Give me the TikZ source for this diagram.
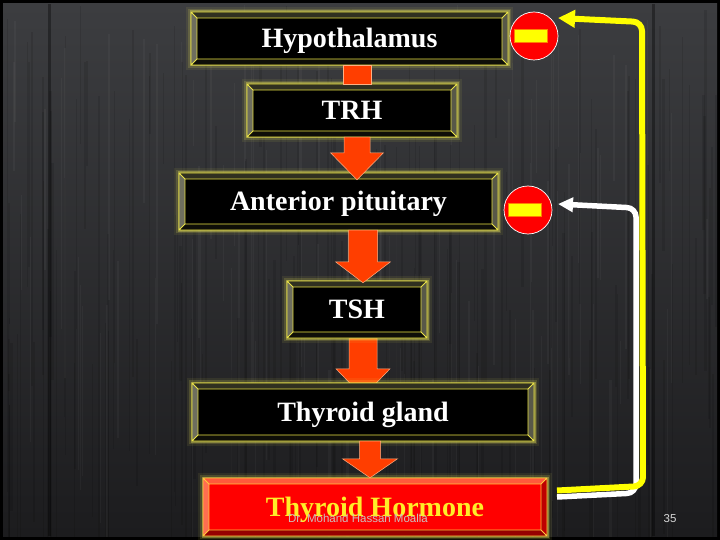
\documentclass[tikz,border=0pt]{standalone}
\usepackage{fontspec}
\setmainfont{Liberation Serif}
\newfontfamily\wmfont{Liberation Sans}
\usetikzlibrary{arrows.meta,calc}
\pgfdeclarelayer{bglayer}
\pgfdeclarelayer{arrlayer}
\pgfsetlayers{bglayer,arrlayer,main}
\definecolor{bgtop}{RGB}{60,61,64}
\definecolor{bgbot}{RGB}{28,28,30}
\definecolor{bkIn}{RGB}{0,0,0}
\definecolor{bkTop}{RGB}{48,48,32}
\definecolor{bkLeft}{RGB}{110,110,94}
\definecolor{bkBot}{RGB}{14,14,8}
\definecolor{bkRight}{RGB}{88,88,72}
\definecolor{bkLine}{RGB}{235,228,70}
\definecolor{rdIn}{RGB}{255,0,0}
\definecolor{rdTop}{RGB}{255,90,60}
\definecolor{rdLeft}{RGB}{255,110,80}
\definecolor{rdBot}{RGB}{150,0,0}
\definecolor{rdRight}{RGB}{190,0,0}
\definecolor{rdLine}{RGB}{255,200,60}
\definecolor{glowc}{RGB}{240,235,90}
\definecolor{arrred}{RGB}{255,62,0}
\definecolor{arredge}{RGB}{255,175,130}
\definecolor{fbyel}{RGB}{255,255,0}
\definecolor{hormtext}{RGB}{255,238,40}
\definecolor{wmgray}{RGB}{205,190,190}
\definecolor{pggray}{RGB}{215,215,215}
\tikzset{
  boxtext/.style={inner sep=0pt, text height=18.5pt, text depth=0pt,
    font=\fontsize{28}{32}\selectfont\bfseries},
  arrowsty/.style={fill=arrred, draw=arredge, line width=0.5pt},
  minuscirc/.style={circle, fill=red, draw=white, line width=0.7pt,
    minimum size=48pt, inner sep=0pt},
  minusbar/.style={fill=fbyel, draw=orange, line width=0.5pt},
  yelline/.style={draw=fbyel, line width=6pt, rounded corners=9pt,
    -{Triangle[length=17pt,width=17pt]}},
  whiline/.style={draw=white, line width=5.5pt, rounded corners=9pt,
    -{Triangle[length=15pt,width=14pt]}},
  wm/.style={font=\wmfont\fontsize{11.5}{13}\selectfont, text=wmgray, inner sep=0pt},
  pgno/.style={font=\wmfont\fontsize{11.5}{13}\selectfont, text=pggray, inner sep=0pt}
}
% #1 name, #2 x1, #3 y1, #4 x2, #5 y2, #6 scheme, #7 text colour, #8 text
\newcommand\bevbox[8]{%
  \draw[glowc, line width=10pt, opacity=0.08] (#2,#3) rectangle (#4,#5);
  \draw[glowc, line width=6pt, opacity=0.16] (#2,#3) rectangle (#4,#5);
  \draw[glowc, line width=3pt, opacity=0.35] (#2,#3) rectangle (#4,#5);
  \fill[#6Top] (#2,#3) -- (#4,#3) -- (#4-6,#3+6) -- (#2+6,#3+6) -- cycle;
  \fill[#6Bot] (#2,#5) -- (#4,#5) -- (#4-6,#5-6) -- (#2+6,#5-6) -- cycle;
  \fill[#6Left] (#2,#3) -- (#2+6,#3+6) -- (#2+6,#5-6) -- (#2,#5) -- cycle;
  \fill[#6Right] (#4,#3) -- (#4-6,#3+6) -- (#4-6,#5-6) -- (#4,#5) -- cycle;
  \fill[#6In] (#2+6,#3+6) rectangle (#4-6,#5-6);
  \draw[#6Line, line width=0.8pt] (#2,#3) rectangle (#4,#5)
    (#2+6,#3+6) rectangle (#4-6,#5-6)
    (#2,#3) -- (#2+6,#3+6) (#4,#3) -- (#4-6,#3+6)
    (#2,#5) -- (#2+6,#5-6) (#4,#5) -- (#4-6,#5-6);
  \node[boxtext, text=#7, minimum width={#4-#2}, minimum height={#5-#3}]
    (#1) at ({(#2+#4)/2},{(#3+#5)/2}) {#8};
}
% #1 from, #2 to, #3 x, #4 shaft half, #5 head half, #6 head length, #7 tip offset
\newcommand\redarrow[7]{%
  \filldraw[arrowsty] let \p1=(#1.south), \p2=(#2.north) in
    (#3-#4,\y1) -- (#3+#4,\y1) -- (#3+#4,\y2-#7pt+#6pt) -- (#3+#5,\y2-#7pt+#6pt)
    -- (#3,\y2-#7pt) -- (#3-#5,\y2-#7pt+#6pt) -- (#3-#4,\y2-#7pt+#6pt) -- cycle;
}
\begin{document}
\begin{tikzpicture}[x=1pt,y=-1pt]
\useasboundingbox (0,0) rectangle (720,540);
\begin{pgfonlayer}{bglayer}
  \fill[black] (0,0) rectangle (720,540);
  \shade[top color=bgtop, bottom color=bgbot] (3,4) rectangle (717,536);
  \begin{scope}
    \clip (3,4) rectangle (717,536);
    \pgfmathsetseed{42}
    \foreach \i in {1,...,160}{
      \pgfmathsetmacro\xa{3+rnd*712}
      \pgfmathsetmacro\wa{0.4+rnd*2.5}
      \pgfmathsetmacro\ya{rnd*380}
      \pgfmathsetmacro\hb{80+rnd*400}
      \fill[black, opacity=0.10] (\xa,\ya) rectangle ++(\wa,\hb);
    }
    \foreach \i in {1,...,90}{
      \pgfmathsetmacro\xa{3+rnd*712}
      \pgfmathsetmacro\wa{0.4+rnd*2}
      \pgfmathsetmacro\ya{rnd*380}
      \pgfmathsetmacro\hb{60+rnd*300}
      \fill[white, opacity=0.035] (\xa,\ya) rectangle ++(\wa,\hb);
    }
    \fill[black, opacity=0.35] (48,4) rectangle (51,536);
    \fill[black, opacity=0.35] (652,4) rectangle (655,536);
  \end{scope}
\end{pgfonlayer}

\bevbox{hypo}{191}{12}{508}{65}{bk}{white}{Hypothalamus}
\bevbox{trh}{247}{84}{457}{137}{bk}{white}{TRH}
\bevbox{ap}{179}{173}{498}{230}{bk}{white}{Anterior pituitary}
\bevbox{tsh}{287}{281}{427}{338}{bk}{white}{TSH}
\bevbox{tg}{192}{383}{534}{441}{bk}{white}{Thyroid gland}
\bevbox{th}{203}{478}{547}{536}{rd}{hormtext}{Thyroid Hormone}

% block arrows
\fill[arrowsty] let \p1=(hypo.south), \p2=(trh.north) in (343,\y1) rectangle (371,\y2);
\redarrow{trh}{ap}{357}{13}{26.5}{27}{7}
\redarrow{ap}{tsh}{363}{14.5}{27.5}{21}{2}
\begin{pgfonlayer}{arrlayer}
\redarrow{tsh}{tg}{363}{14}{27}{28}{14}
\end{pgfonlayer}
\redarrow{tg}{th}{370}{10.5}{27.5}{19}{0}

% inhibition signs
\node[minuscirc] (m1) at (534,36) {};
\filldraw[minusbar] ($(m1)+(-20,-6.5)$) rectangle ($(m1)+(13,6.5)$);
\node[minuscirc] (m2) at (528,210) {};
\filldraw[minusbar] ($(m2)+(-20,-6.5)$) rectangle ($(m2)+(13,6.5)$);

% feedback lines
\coordinate (ws) at (557,497);
\coordinate (wc1) at (636,493);
\coordinate (wc2) at (636,208);
\coordinate (we) at (558,204);
\draw[whiline] (ws) -- (wc1) -- (wc2) -- (we);
\coordinate (ys) at (557,490.5);
\coordinate (yc1) at (643,486);
\coordinate (yc2) at (642,22);
\coordinate (ye) at (558,18);
\draw[yelline] (ys) -- (yc1) -- (yc2) -- (ye);

% footer texts
\node[wm, anchor=base] (wmk) at (358,522) {Dr. Mohand Hassan Moalla};
\node[pgno, anchor=base] (pg) at (670,522) {35};
\end{tikzpicture}
\end{document}
